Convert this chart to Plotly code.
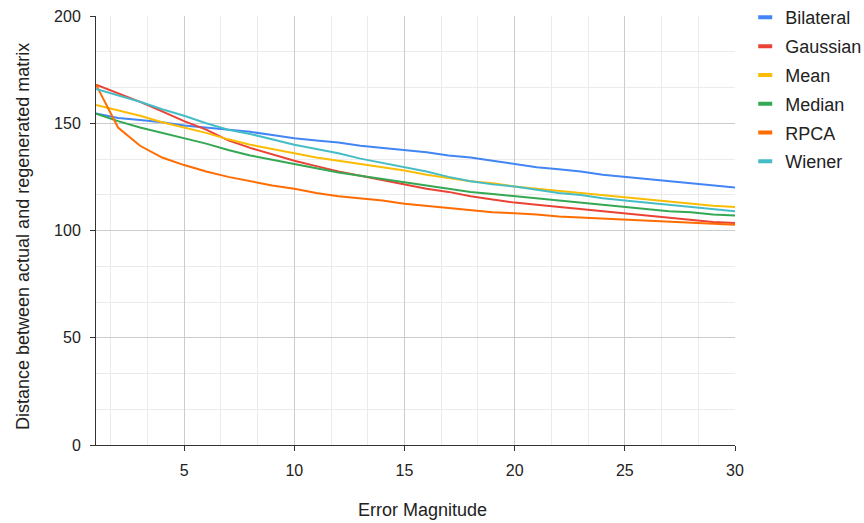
import plotly.graph_objects as go

x_vals = list(range(1, 31))

bilateral = [154.5, 152.5, 151.5, 150.5, 149, 148, 147, 146, 144.5, 143,
             142, 141, 139.5, 138.5, 137.5, 136.5, 135, 134, 132.5, 131,
             129.5, 128.5, 127.5, 126, 125, 124, 123, 122, 121, 120]
gaussian = [168, 164, 160, 155.5, 151, 147, 142, 138.5, 135.5, 132.5,
            130, 127.5, 125.5, 123.5, 121.5, 119.5, 118, 116, 114.5, 113,
            112, 111, 110, 109, 108, 107, 106, 105, 104, 103.5]
mean = [158.5, 156, 153.5, 150.5, 148, 145.5, 142.5, 140, 138, 136,
        134, 132.5, 131, 129.5, 128, 126, 124.5, 123, 122, 120.5,
        119.5, 118.5, 117.5, 116.5, 115.5, 114.5, 113.5, 112.5, 111.5, 111]
median = [154.5, 151, 148, 145.5, 143, 140.5, 137.5, 135, 133, 131,
          129, 127, 125.5, 124, 122.5, 121, 119.5, 118, 117, 116,
          115, 114, 113, 112, 111, 110, 109, 108.5, 107.5, 107]
rpca = [168, 148, 139.5, 134, 130.5, 127.5, 125, 123, 121, 119.5,
        117.5, 116, 115, 114, 112.5, 111.5, 110.5, 109.5, 108.5, 108,
        107.5, 106.5, 106, 105.5, 105, 104.5, 104, 103.5, 103, 102.7]
wiener = [166, 163, 160, 156.5, 153.5, 150, 147, 145, 142.5, 140,
          138, 136, 133.5, 131.5, 129.5, 127.5, 125, 123, 121.5, 120.5,
          119, 117.5, 116.5, 115, 114, 113, 112, 111, 110, 109]

series_names = ["Bilateral", "Gaussian", "Mean", "Median", "RPCA", "Wiener"]
series_values = [bilateral, gaussian, mean, median, rpca, wiener]
colors = ["#4285F4", "#EA4335", "#FBBC04", "#34A853", "#FF6D01", "#46BDC6"]

x_title = "Error Magnitude"
y_title = "Distance between actual and regenerated matrix"

FONT = "Liberation Sans, Arial, sans-serif"

fig = go.Figure()
for name, vals, col in zip(series_names, series_values, colors):
    fig.add_trace(go.Scatter(
        x=x_vals, y=vals, mode="lines", name=name,
        line=dict(color=col, width=2), showlegend=False,
    ))
for name, col in zip(series_names, colors):
    fig.add_trace(go.Scatter(
        x=[None], y=[None], mode="markers", name=name, legendgroup=name,
        marker=dict(symbol="line-ew", size=10, color=col,
                    line=dict(color=col, width=4)),
        showlegend=True,
    ))

fig.update_layout(
    width=864, height=523,
    margin=dict(l=96, r=129, t=16, b=78, autoexpand=False),
    paper_bgcolor="white", plot_bgcolor="white",
    font=dict(family=FONT, size=16, color="#222222"),
    legend=dict(
        x=1.016, xanchor="left", y=1.0393, yanchor="top",
        font=dict(family=FONT, size=18, color="#222222"),
        tracegroupgap=2.4, itemwidth=30,
        bgcolor="rgba(0,0,0,0)",
    ),
    showlegend=True,
    annotations=[
        dict(text=x_title, xref="paper", yref="paper",
             x=(422 - 96) / 639, y=0, yshift=-65,
             xanchor="center", yanchor="middle", showarrow=False,
             font=dict(family=FONT, size=18, color="#222222")),
        dict(text=y_title, xref="paper", yref="paper",
             x=0, xshift=-73, y=(445 - 237) / 429,
             xanchor="center", yanchor="middle", textangle=-90, showarrow=False,
             font=dict(family=FONT, size=18, color="#222222")),
    ],
)

fig.update_xaxes(
    range=[1, 30], tick0=0, dtick=5,
    ticks="outside", ticklen=5, tickcolor="#333333",
    showline=True, linecolor="#333333", linewidth=1,
    showgrid=True, gridcolor="#cccccc", gridwidth=1,
    zeroline=False,
    tickfont=dict(family=FONT, size=16, color="#222222"),
    ticklabelstandoff=6,
    minor=dict(tick0=0, dtick=5 / 3, showgrid=True, gridcolor="#ebebeb", ticks=""),
    automargin=False,
)
fig.update_yaxes(
    range=[0, 200], tick0=0, dtick=50,
    ticks="outside", ticklen=5, tickcolor="#333333",
    showline=True, linecolor="#333333", linewidth=1,
    showgrid=True, gridcolor="#cccccc", gridwidth=1,
    zeroline=False,
    tickfont=dict(family=FONT, size=16, color="#222222"),
    ticklabelstandoff=6,
    minor=dict(tick0=0, dtick=50 / 3, showgrid=True, gridcolor="#ebebeb", ticks=""),
    automargin=False,
)

fig.write_html("out.html")
